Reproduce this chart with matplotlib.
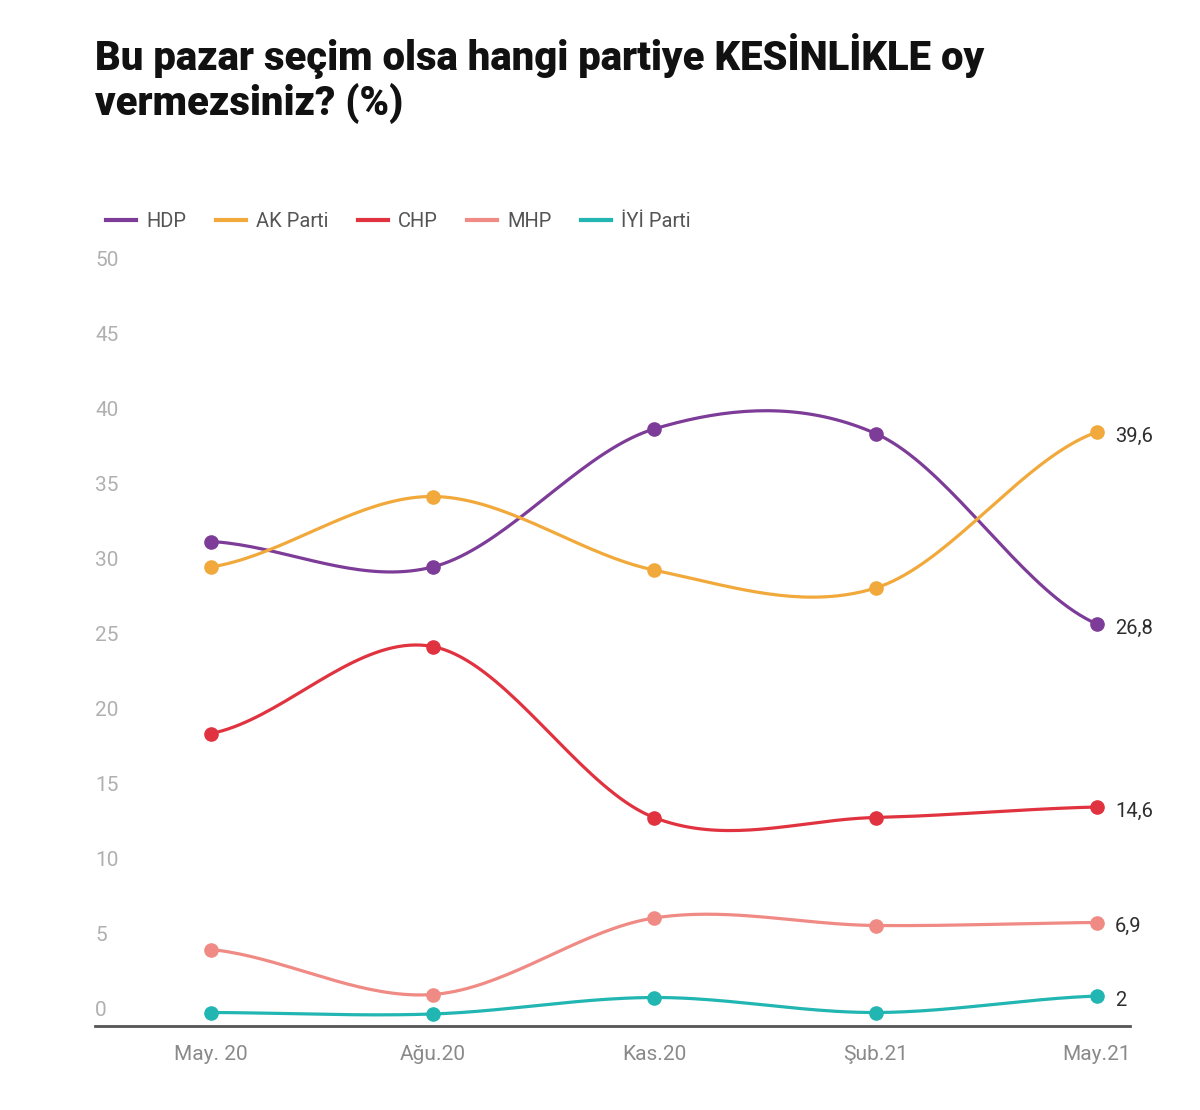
import numpy as np
import matplotlib
matplotlib.use("Agg")
import matplotlib.pyplot as plt
from matplotlib.lines import Line2D
import matplotlib.transforms as mtransforms

plt.rcParams['font.family'] = ['Roboto', 'DejaVu Sans']

# data
months = ['May. 20', 'Ağu.20', 'Kas.20', 'Şub.21', 'May.21']
parties = ['HDP', 'AK Parti', 'CHP', 'MHP', 'İYİ Parti']
hdp = [32.3, 30.6, 39.8, 39.5, 26.8]
ak_parti = [30.6, 35.3, 30.4, 29.2, 39.6]
chp = [19.5, 25.3, 13.9, 13.9, 14.6]
mhp = [5.1, 2.1, 7.2, 6.7, 6.9]
iyi_parti = [0.9, 0.8, 1.9, 0.9, 2.0]
end_labels = ['26,8', '39,6', '14,6', '6,9', '2']
colors = ['#7d3c98', '#f2a93b', '#e0323f', '#f08a84', '#22b6b2']
yticks = [0, 5, 10, 15, 20, 25, 30, 35, 40, 45, 50]


def catmull_rom(x, y, n=40):
    """uniform catmull-rom through the points (d3 style smooth line)"""
    x = np.asarray(x, float)
    y = np.asarray(y, float)
    xp = np.concatenate([[2 * x[0] - x[1]], x, [2 * x[-1] - x[-2]]])
    yp = np.concatenate([[y[0]], y, [y[-1]]])
    xs, ys = [], []
    for i in range(1, len(xp) - 2):
        t = np.linspace(0, 1, n)
        h00 = 2 * t**3 - 3 * t**2 + 1
        h10 = t**3 - 2 * t**2 + t
        h01 = -2 * t**3 + 3 * t**2
        h11 = t**3 - t**2
        m0 = (yp[i + 1] - yp[i - 1]) / 2
        m1 = (yp[i + 2] - yp[i]) / 2
        if i == 1:
            m0 = (yp[i + 1] - yp[i]) / 2
        if i == len(xp) - 3:
            m1 = (yp[i + 1] - yp[i]) / 2
        xs.append(xp[i] + t * (xp[i + 1] - xp[i]))
        ys.append(h00 * yp[i] + h10 * m0 + h01 * yp[i + 1] + h11 * m1)
    return np.concatenate(xs), np.concatenate(ys)


fig = plt.figure(figsize=(12, 11.1), dpi=100)
fig.patch.set_facecolor('white')

ax = fig.add_axes([95 / 1200, (1110 - 1026) / 1110, (1130 - 95) / 1200, 750 / 1110])
x = np.arange(len(months))
ax.set_xlim(-0.524, 4.149)
ax.set_ylim(0, 50)

series = [hdp, ak_parti, chp, mhp, iyi_parti]
for vals, col, lab, name in zip(series, colors, end_labels, parties):
    sx, sy = catmull_rom(x, vals)
    ax.plot(sx, sy, color=col, lw=2.3, solid_capstyle='round', clip_on=False, zorder=3)
    ax.plot(x, vals, 'o', color=col, ms=9.5, clip_on=False, zorder=4)
    off = mtransforms.offset_copy(ax.transData, fig=fig, x=13, y=-3, units='points')
    ax.text(x[-1], vals[-1], lab, transform=off, ha='left', va='center',
            fontsize=14.5, color='#2e2e2e')

for spine in ['top', 'right', 'left']:
    ax.spines[spine].set_visible(False)
ax.spines['bottom'].set_color('#555555')
ax.spines['bottom'].set_linewidth(2)

ax.set_yticks([])
ylab_tr = mtransforms.offset_copy(
    mtransforms.blended_transform_factory(ax.transAxes, ax.transData),
    fig=fig, x=0, y=4, units='points')
for v in yticks:
    ax.text(0.0, v, str(v), transform=ylab_tr, ha='left', va='bottom',
            fontsize=15, color='#b0b0b0')

ax.set_xticks(x)
ax.set_xticklabels(months, fontsize=15, color='#8a8a8a')
ax.tick_params(axis='x', length=0, pad=14)

handles = [Line2D([0], [0], color=c, lw=3) for c in colors]
leg = fig.legend(handles, parties, loc='upper left', bbox_to_anchor=(88 / 1200, 1 - 194 / 1110),
                 ncol=5, frameon=False, fontsize=14.5, handlelength=1.5, handletextpad=0.5,
                 columnspacing=1.45, labelcolor='#555555')

fig.text(95 / 1200, 1 - 33 / 1110, 'Bu pazar seçim olsa hangi partiye KESİNLİKLE oy\nvermezsiniz? (%)',
         ha='left', va='top', fontsize=28.8, fontweight='heavy', color='#111111',
         linespacing=1.12)

fig.savefig('out.png', dpi=100, facecolor='white')
